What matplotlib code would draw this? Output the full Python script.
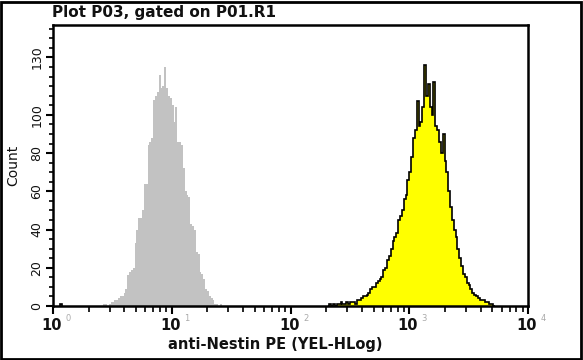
import numpy as np
import matplotlib
matplotlib.use("Agg")
import matplotlib.pyplot as plt
from matplotlib.patches import Rectangle
from matplotlib.ticker import FixedLocator, NullFormatter

# ---- data: histogram channels (64 channels per decade, 4 decades) ----
CH_PER_DECADE = 64
gray_start = 27
gray_counts = [1, 1, 0, 1, 2, 2, 3, 3, 4, 5, 5, 7, 9, 16, 18, 19, 20, 33, 40, 46,
               46, 50, 64, 64, 84, 86, 88, 108, 110, 112, 121, 114, 115, 125, 114,
               110, 109, 105, 96, 104, 86, 86, 84, 72, 60, 58, 57, 43, 42, 40, 28,
               27, 18, 17, 14, 9, 8, 5, 4, 3, 1, 1, 0, 1, 0]
yellow_start = 148
yellow_counts = [0, 1, 0, 1, 0, 1, 1, 2, 1, 1, 2, 1, 2, 2, 2, 1, 3, 3, 4, 5,
                 5, 6, 7, 9, 10, 10, 12, 13, 14, 15, 19, 20, 24, 26, 30, 34, 36,
                 38, 45, 47, 50, 56, 58, 66, 70, 78, 88, 92, 107, 94, 96, 104, 126,
                 110, 116, 104, 100, 117, 94, 92, 86, 80, 90, 76, 70, 60, 52, 45,
                 40, 36, 30, 25, 21, 17, 15, 12, 11, 9, 7, 6, 5, 4, 3, 3, 3, 2, 2,
                 1, 1, 0]
stray_channels = [4]
stray_counts = [1]

title = "Plot P03, gated on P01.R1"
xlabel = "anti-Nestin PE (YEL-HLog)"
ylabel = "Count"
x_exponents = [0, 1, 2, 3, 4]
y_ticks = [0, 20, 40, 60, 80, 100, 130]

fig = plt.figure(figsize=(5.83, 3.6), dpi=100)
ax = fig.add_axes([53/583, 1 - 306/360, 475/583, 281/360])

def edges(start, n):
    ch = np.arange(start, start + n + 1)
    return 10.0 ** (ch / CH_PER_DECADE)

ax.stairs(gray_counts, edges(gray_start, len(gray_counts)), fill=True,
          color="#c2c2c2", linewidth=0)
ye = edges(yellow_start, len(yellow_counts))
ax.stairs(yellow_counts, ye, fill=True, color="#ffff00", linewidth=0)
ax.stairs(yellow_counts, ye, fill=False, color="black", linewidth=1.2)
for c, v in zip(stray_channels, stray_counts):
    ax.stairs([v], edges(c, 1), fill=False, color="black", linewidth=1.2)

ax.set_xscale("log")
ax.set_xlim(1, 1e4)
ax.set_ylim(0, 147)

for s in ax.spines.values():
    s.set_linewidth(1.8)
    s.set_color("black")

# x ticks
ax.xaxis.set_major_locator(FixedLocator([10.0 ** e for e in x_exponents]))
minors = [m * 10.0 ** e for e in range(4) for m in range(2, 10)]
ax.xaxis.set_minor_locator(FixedLocator(minors))
ax.xaxis.set_major_formatter(NullFormatter())
ax.xaxis.set_minor_formatter(NullFormatter())
ax.tick_params(axis="x", which="major", direction="out", length=6, width=1.5)
ax.tick_params(axis="x", which="minor", direction="out", length=4, width=1.2)

for e in x_exponents:
    ax.annotate("10", xy=(10.0 ** e, 0), xycoords=("data", "axes fraction"),
                xytext=(-1, -14), textcoords="offset points",
                ha="center", va="center", fontsize=10.5, fontweight="bold",
                color="#111111")
    ax.annotate(str(e), xy=(10.0 ** e, 0), xycoords=("data", "axes fraction"),
                xytext=(9, -9), textcoords="offset points",
                ha="left", va="center", fontsize=6, color="#aaaaaa")

# y ticks
ax.yaxis.set_major_locator(FixedLocator(y_ticks))
ax.yaxis.set_minor_locator(FixedLocator([v for v in range(0, 150, 5) if v not in y_ticks]))
ax.set_yticklabels([str(v) for v in y_ticks], rotation=90, va="center",
                   fontsize=9, color="#111111")
ax.tick_params(axis="y", which="major", direction="out", length=5, width=1.5, pad=2)
ax.tick_params(axis="y", which="minor", direction="out", length=3, width=1.2)

fig.text(52/583, 1 - 12/360, title, ha="left", va="center", fontsize=11,
         fontweight="bold", color="#111111")
fig.text(275/583, 1 - 345/360, xlabel, ha="center", va="center", fontsize=10.5,
         fontweight="bold", color="#111111")
fig.text(13/583, 1 - 165/360, ylabel, ha="center", va="center", fontsize=10,
         rotation=90, color="#111111")

fig.patches.append(Rectangle((1/583, 1/360), 580/583, 357/360, transform=fig.transFigure,
                             fill=False, edgecolor="black", linewidth=2))

fig.savefig("out.png", dpi=100)
